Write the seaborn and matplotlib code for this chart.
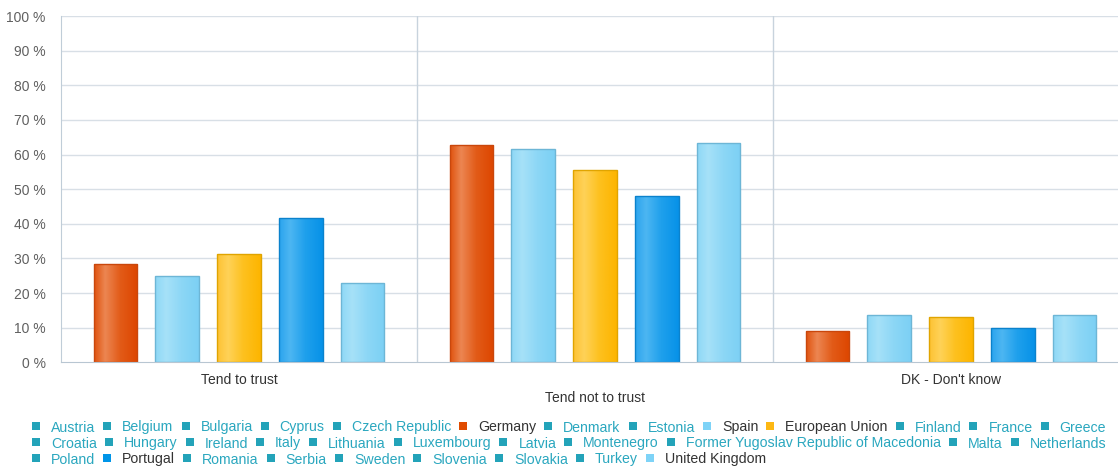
import numpy as np
import pandas as pd
import matplotlib
matplotlib.use("Agg")
import matplotlib.pyplot as plt
from matplotlib.colors import LinearSegmentedColormap
import seaborn as sns

# ---- data ----
categories = ["Tend to trust", "Tend not to trust", "DK - Don't know"]
countries = ["Germany", "Spain", "European Union", "Portugal", "United Kingdom"]
germany = [28.5, 62.7, 9.0]
spain = [24.9, 61.6, 13.8]
eu = [31.4, 55.4, 13.0]
portugal = [41.8, 48.0, 9.9]
uk = [22.9, 63.3, 13.8]
yticks = [0, 10, 20, 30, 40, 50, 60, 70, 80, 90, 100]

legend_rows = [
    ["Austria", "Belgium", "Bulgaria", "Cyprus", "Czech Republic", "Germany", "Denmark",
     "Estonia", "Spain", "European Union", "Finland", "France", "Greece"],
    ["Croatia", "Hungary", "Ireland", "Italy", "Lithuania", "Luxembourg", "Latvia",
     "Montenegro", "Former Yugoslav Republic of Macedonia", "Malta", "Netherlands"],
    ["Poland", "Portugal", "Romania", "Serbia", "Sweden", "Slovenia", "Slovakia",
     "Turkey", "United Kingdom"],
]

series = {"Germany": germany, "Spain": spain, "European Union": eu,
          "Portugal": portugal, "United Kingdom": uk}
rows = []
for c in countries:
    for cat, v in zip(categories, series[c]):
        rows.append({"category": cat, "country": c, "value": v})
df = pd.DataFrame(rows)

base = {"Germany": "#E04B00", "Spain": "#7ED3F7", "European Union": "#FDB813",
        "Portugal": "#0095E8", "United Kingdom": "#7ED3F7"}
edges = {"Germany": "#C9470C", "Spain": "#6DB6D6", "European Union": "#E0A400",
         "Portugal": "#0B82CC", "United Kingdom": "#6DB6D6"}
grads = {
    "Germany": ["#E0530F", "#EC8652", "#E25B18", "#DD4600"],
    "Spain": ["#8ED8F6", "#A6E1F8", "#8DD7F6", "#7CD0F4"],
    "European Union": ["#FDC233", "#FFD258", "#FDC11F", "#FDB500"],
    "Portugal": ["#2BA4EE", "#4DB6F2", "#1FA0EC", "#0792E8"],
    "United Kingdom": ["#8ED8F6", "#A6E1F8", "#8DD7F6", "#7CD0F4"],
}
teal = "#23A3B9"

W, H = 1118, 467
fig = plt.figure(figsize=(W / 100, H / 100), dpi=100)
sns.set_style("white")
plt.rcParams["font.family"] = ["Liberation Sans", "DejaVu Sans"]

left_px, right_px = 61, 1129
top_px, bot_px = 16, 362.3
ax = fig.add_axes([left_px / W, (H - bot_px) / H, (right_px - left_px) / W, (bot_px - top_px) / H])

sns.barplot(data=df, x="category", y="value", hue="country", order=categories,
            hue_order=countries, palette=base, width=0.867, gap=0.29,
            legend=False, ax=ax, linewidth=1, saturation=1)

ax.set_xlim(-0.5, 2.5)
ax.set_ylim(0, 100)
ax.set_xlabel("")
ax.set_ylabel("")

# gradients on bars
for i, patch in enumerate(ax.patches):
    country = countries[i // len(categories)]
    x0, y0 = patch.get_x(), patch.get_y()
    w, h = patch.get_width(), patch.get_height()
    cmap = LinearSegmentedColormap.from_list(
        "g", list(zip([0, 0.25, 0.6, 1.0], grads[country])))
    img = ax.imshow(np.linspace(0, 1, 64).reshape(1, -1), cmap=cmap, aspect="auto",
                    extent=[x0, x0 + w, y0, y0 + h], zorder=1.9, interpolation="bilinear")
    img.set_clip_path(patch)
    patch.set_facecolor("none")
    patch.set_edgecolor(edges[country])
    patch.set_linewidth(1)
    patch.set_zorder(2)
ax.set_xlim(-0.5, 2.5)
ax.set_ylim(0, 100)

# grid & axes
grid_c = "#D8DFE6"
ax.set_yticks(yticks)
ax.set_yticklabels([f"{t} %" for t in yticks])
for t in yticks[1:]:
    ax.axhline(t, color=grid_c, lw=1, zorder=0.5)
for xs in [0.5, 1.5]:
    ax.axvline(xs, color="#C8D3DD", lw=1, zorder=0.5)
for s in ["top", "right"]:
    ax.spines[s].set_visible(False)
ax.spines["left"].set_color("#C0CDD8")
ax.spines["bottom"].set_color("#B8C6D2")
ax.tick_params(axis="y", length=5, width=1, color="#C0CDD8", pad=6,
               labelsize=10, labelcolor="#606060")
ax.set_xticks([0, 1, 2])
ax.set_xticklabels(categories)
ax.set_xticks([-0.5, 0.5, 1.5], minor=True)
ax.tick_params(axis="x", which="major", length=0, pad=8, labelsize=10, labelcolor="#333333")
ax.tick_params(axis="x", which="minor", length=5, width=1, color="#B8C6D2")
ax.xaxis.get_major_ticks()[1].set_pad(21)

# legend drawn as flowing rows
renderer = fig.canvas.get_renderer()
highlight = {"Germany", "Spain", "European Union", "Portugal", "United Kingdom"}
row_y = [426, 442, 458]
sq = 8
for r, items in enumerate(legend_rows):
    x = 32
    yc = row_y[r]
    for name in items:
        col = base[name] if name in highlight else teal
        fig.patches.append(plt.Rectangle(((x) / W, (H - yc - sq / 2) / H), sq / W, sq / H,
                                         transform=fig.transFigure, facecolor=col,
                                         edgecolor="none", figure=fig))
        tcol = "#333333" if name in highlight else "#2AA7BF"
        t = fig.text((x + 19) / W, (H - yc) / H, name, fontsize=10.2, color=tcol,
                     va="center_baseline", ha="left")
        wpx = t.get_window_extent(renderer).width
        x = x + 19 + wpx + 8

fig.savefig("out.png", dpi=100)
